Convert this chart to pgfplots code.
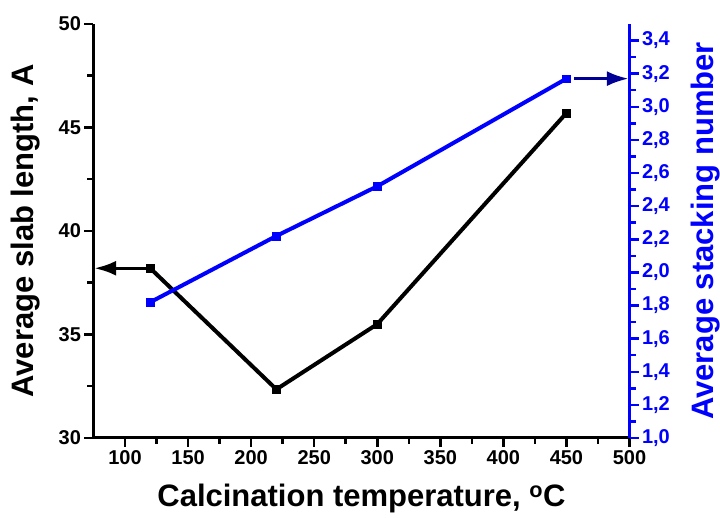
\documentclass[border=0pt]{standalone}
\usepackage{fontspec}
\setmainfont{Liberation Sans}
\usepackage{pgfplots}
\pgfplotsset{compat=1.18}
\usetikzlibrary{arrows.meta}
\definecolor{myblue}{RGB}{0,0,255}
\definecolor{navyarrow}{RGB}{0,0,150}
\begin{document}
\begin{tikzpicture}
\pgfplotsset{
  common/.style={
    scale only axis, width=536pt, height=414pt,
    xmin=75, xmax=500,
    tick align=outside,
    major tick length=9pt, minor tick length=6pt,
    /pgf/number format/assume math mode=true,
    ticklabel style={font=\fontsize{20}{20}\selectfont\bfseries},
    label style={font=\fontsize{31}{31}\selectfont\bfseries},
    clip=false,
  }
}
\begin{axis}[common,
  ymin=30, ymax=50,
  axis x line*=bottom, axis y line*=left,
  axis line style={line width=3pt, -},
  xtick={100,150,200,250,300,350,400,450,500},
  minor xtick={125,175,225,275,325,375,425,475},
  ytick={30,35,40,45,50},
  minor ytick={32.5,37.5,42.5,47.5},
  tick style={line width=2.5pt, black},
  xlabel={Calcination temperature, \textsuperscript{o}C},
  ylabel={Average slab length, A},
  xlabel style={at={(axis description cs:0.5,-0.145)}, anchor=center},
  ylabel style={at={(axis description cs:-0.127,0.5)}, anchor=center},
]
\coordinate (O) at (rel axis cs:0,0);
\addplot[black, line width=4pt, mark=square*, mark size=3.8pt, mark options={line width=0.5pt}]
  coordinates {(120,38.2) (220,32.35) (300,35.5) (450,45.7)};
\addplot[black, line width=3.5pt, -{Latex[length=22pt,width=15pt]}]
  coordinates {(119,38.2) (75.5,38.2)};
\end{axis}
\begin{axis}[common,
  ymin=1.0, ymax=3.5,
  axis x line=none, axis y line*=right,
  axis line style={line width=3pt, -, myblue},
  ytick={1.0,1.2,1.4,1.6,1.8,2.0,2.2,2.4,2.6,2.8,3.0,3.2,3.4},
  minor ytick={1.1,1.3,1.5,1.7,1.9,2.1,2.3,2.5,2.7,2.9,3.1,3.3},
  tick style={line width=2.5pt, myblue},
  yticklabel style={myblue},
  /pgf/number format/.cd, fixed, fixed zerofill, precision=1, use comma, /tikz/.cd,
  ylabel={Average stacking number},
  ylabel style={myblue, at={(axis description cs:1.142,0.5)}, anchor=center, rotate=0},
]
\addplot[myblue, line width=4pt, mark=square*, mark size=3.8pt, mark options={line width=0.5pt}]
  coordinates {(120,1.82) (220,2.22) (300,2.52) (450,3.17)};
\addplot[navyarrow, line width=3.5pt, -{Latex[length=22pt,width=15pt]}]
  coordinates {(456,3.17) (499.5,3.17)};
\end{axis}
\pgfresetboundingbox
\useasboundingbox (O) ++(-93.5pt,-80pt) rectangle ++(720pt,518pt);
\end{tikzpicture}
\end{document}
